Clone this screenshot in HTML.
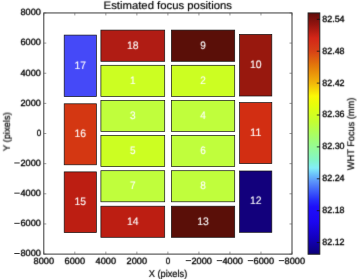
<!DOCTYPE html>
<html><head><meta charset="utf-8"><style>
html,body{margin:0;padding:0;background:#fff;width:357px;height:279px;overflow:hidden}
svg{display:block}
text{font-family:"Liberation Sans", sans-serif;filter:url(#bl);text-rendering:geometricPrecision}
.t{fill:#000;stroke:#000;stroke-width:0.33}
</style></head><body>
<svg width="357" height="279" viewBox="0 0 357 279">
<defs>
<filter id="bl" x="-400" y="-400" width="1200" height="1200" filterUnits="userSpaceOnUse" color-interpolation-filters="sRGB"><feConvolveMatrix order="3" kernelMatrix="0.01134 0.08382 0.01134 0.08382 0.61935 0.08382 0.01134 0.08382 0.01134" edgeMode="none"/></filter>
<linearGradient id="cb" gradientUnits="userSpaceOnUse" x1="0" y1="253.8" x2="0" y2="12.9">

<stop offset="0.0000" stop-color="rgb(12, 0, 122)"/>
<stop offset="0.0656" stop-color="rgb(20, 0, 190)"/>
<stop offset="0.1320" stop-color="rgb(28, 6, 240)"/>
<stop offset="0.1943" stop-color="rgb(30, 14, 250)"/>
<stop offset="0.2233" stop-color="rgb(38, 45, 250)"/>
<stop offset="0.2648" stop-color="rgb(65, 100, 250)"/>
<stop offset="0.2980" stop-color="rgb(90, 145, 250)"/>
<stop offset="0.3271" stop-color="rgb(105, 190, 250)"/>
<stop offset="0.3562" stop-color="rgb(130, 238, 248)"/>
<stop offset="0.3894" stop-color="rgb(130, 245, 200)"/>
<stop offset="0.4309" stop-color="rgb(145, 250, 160)"/>
<stop offset="0.4932" stop-color="rgb(168, 255, 100)"/>
<stop offset="0.5471" stop-color="rgb(195, 255, 50)"/>
<stop offset="0.6135" stop-color="rgb(228, 255, 12)"/>
<stop offset="0.6550" stop-color="rgb(250, 248, 5)"/>
<stop offset="0.7090" stop-color="rgb(242, 182, 10)"/>
<stop offset="0.7796" stop-color="rgb(228, 122, 10)"/>
<stop offset="0.8418" stop-color="rgb(215, 65, 22)"/>
<stop offset="0.8958" stop-color="rgb(212, 38, 24)"/>
<stop offset="0.9498" stop-color="rgb(150, 20, 15)"/>
<stop offset="1.0000" stop-color="rgb(95, 12, 10)"/>
</linearGradient></defs>
<rect x="64.2" y="35.1" width="32.20" height="61.50" fill="#4549f8" stroke="#111" stroke-width="0.7"/>
<rect x="64.2" y="103.8" width="32.20" height="61.00" fill="#d43712" stroke="#111" stroke-width="0.7"/>
<rect x="64.2" y="171.9" width="32.20" height="60.70" fill="#bc1e12" stroke="#111" stroke-width="0.7"/>
<rect x="100.9" y="30.1" width="63.80" height="31.20" fill="#b01c14" stroke="#111" stroke-width="0.7"/>
<rect x="100.9" y="65.3" width="63.80" height="31.10" fill="#ccfe22" stroke="#111" stroke-width="0.7"/>
<rect x="100.9" y="100.4" width="63.80" height="31.00" fill="#c0fe3c" stroke="#111" stroke-width="0.7"/>
<rect x="100.9" y="135.4" width="63.80" height="31.20" fill="#ccfe22" stroke="#111" stroke-width="0.7"/>
<rect x="100.9" y="170.7" width="63.80" height="31.10" fill="#c0fe3c" stroke="#111" stroke-width="0.7"/>
<rect x="100.9" y="206.2" width="63.80" height="31.10" fill="#bc1e12" stroke="#111" stroke-width="0.7"/>
<rect x="171.4" y="30.1" width="63.30" height="31.20" fill="#5a0f08" stroke="#111" stroke-width="0.7"/>
<rect x="171.4" y="65.3" width="63.30" height="31.10" fill="#ccfe22" stroke="#111" stroke-width="0.7"/>
<rect x="171.4" y="100.4" width="63.30" height="31.00" fill="#c0fe3c" stroke="#111" stroke-width="0.7"/>
<rect x="171.4" y="135.4" width="63.30" height="31.20" fill="#c0fe3c" stroke="#111" stroke-width="0.7"/>
<rect x="171.4" y="170.7" width="63.30" height="31.10" fill="#c0fe3c" stroke="#111" stroke-width="0.7"/>
<rect x="171.4" y="206.2" width="63.30" height="31.10" fill="#5a0f08" stroke="#111" stroke-width="0.7"/>
<rect x="239.6" y="34.4" width="32.20" height="61.60" fill="#98180e" stroke="#111" stroke-width="0.7"/>
<rect x="239.6" y="102.6" width="32.20" height="61.00" fill="#d22e12" stroke="#111" stroke-width="0.7"/>
<rect x="239.6" y="171.0" width="32.20" height="61.30" fill="#12007c" stroke="#111" stroke-width="0.7"/>
<text x="80.30" y="68.65" font-size="10.9" fill="#fff" stroke="#fff" stroke-width="0.1" text-anchor="middle" textLength="11.6" lengthAdjust="spacingAndGlyphs">17</text>
<text x="80.30" y="137.10" font-size="10.9" fill="#fff" stroke="#fff" stroke-width="0.1" text-anchor="middle" textLength="11.6" lengthAdjust="spacingAndGlyphs">16</text>
<text x="80.30" y="205.05" font-size="10.9" fill="#fff" stroke="#fff" stroke-width="0.1" text-anchor="middle" textLength="11.6" lengthAdjust="spacingAndGlyphs">15</text>
<text x="132.80" y="48.50" font-size="10.9" fill="#fff" stroke="#fff" stroke-width="0.1" text-anchor="middle" textLength="11.6" lengthAdjust="spacingAndGlyphs">18</text>
<text x="132.80" y="83.65" font-size="10.9" fill="#fff" stroke="#fff" stroke-width="0.1" text-anchor="middle" textLength="5.6" lengthAdjust="spacingAndGlyphs">1</text>
<text x="132.80" y="118.70" font-size="10.9" fill="#fff" stroke="#fff" stroke-width="0.1" text-anchor="middle" textLength="5.6" lengthAdjust="spacingAndGlyphs">3</text>
<text x="132.80" y="153.80" font-size="10.9" fill="#fff" stroke="#fff" stroke-width="0.1" text-anchor="middle" textLength="5.6" lengthAdjust="spacingAndGlyphs">5</text>
<text x="132.80" y="189.05" font-size="10.9" fill="#fff" stroke="#fff" stroke-width="0.1" text-anchor="middle" textLength="5.6" lengthAdjust="spacingAndGlyphs">7</text>
<text x="132.80" y="224.55" font-size="10.9" fill="#fff" stroke="#fff" stroke-width="0.1" text-anchor="middle" textLength="11.6" lengthAdjust="spacingAndGlyphs">14</text>
<text x="203.05" y="48.50" font-size="10.9" fill="#fff" stroke="#fff" stroke-width="0.1" text-anchor="middle" textLength="5.6" lengthAdjust="spacingAndGlyphs">9</text>
<text x="203.05" y="83.65" font-size="10.9" fill="#fff" stroke="#fff" stroke-width="0.1" text-anchor="middle" textLength="5.6" lengthAdjust="spacingAndGlyphs">2</text>
<text x="203.05" y="118.70" font-size="10.9" fill="#fff" stroke="#fff" stroke-width="0.1" text-anchor="middle" textLength="5.6" lengthAdjust="spacingAndGlyphs">4</text>
<text x="203.05" y="153.80" font-size="10.9" fill="#fff" stroke="#fff" stroke-width="0.1" text-anchor="middle" textLength="5.6" lengthAdjust="spacingAndGlyphs">6</text>
<text x="203.05" y="189.05" font-size="10.9" fill="#fff" stroke="#fff" stroke-width="0.1" text-anchor="middle" textLength="5.6" lengthAdjust="spacingAndGlyphs">8</text>
<text x="203.05" y="224.55" font-size="10.9" fill="#fff" stroke="#fff" stroke-width="0.1" text-anchor="middle" textLength="11.6" lengthAdjust="spacingAndGlyphs">13</text>
<text x="255.70" y="68.00" font-size="10.9" fill="#fff" stroke="#fff" stroke-width="0.1" text-anchor="middle" textLength="11.6" lengthAdjust="spacingAndGlyphs">10</text>
<text x="255.70" y="135.90" font-size="10.9" fill="#fff" stroke="#fff" stroke-width="0.1" text-anchor="middle" textLength="11.6" lengthAdjust="spacingAndGlyphs">11</text>
<text x="255.70" y="204.45" font-size="10.9" fill="#fff" stroke="#fff" stroke-width="0.1" text-anchor="middle" textLength="11.6" lengthAdjust="spacingAndGlyphs">12</text>
<rect x="43.8" y="12.95" width="248.20" height="241.15" fill="none" stroke="#3a3a3a" stroke-width="1"/>
<line x1="292.00" y1="12.95" x2="292.00" y2="15.45" stroke="#555" stroke-width="0.6"/>
<line x1="292.00" y1="254.1" x2="292.00" y2="251.6" stroke="#555" stroke-width="0.6"/>
<line x1="260.97" y1="12.95" x2="260.97" y2="15.45" stroke="#555" stroke-width="0.6"/>
<line x1="260.97" y1="254.1" x2="260.97" y2="251.6" stroke="#555" stroke-width="0.6"/>
<line x1="229.95" y1="12.95" x2="229.95" y2="15.45" stroke="#555" stroke-width="0.6"/>
<line x1="229.95" y1="254.1" x2="229.95" y2="251.6" stroke="#555" stroke-width="0.6"/>
<line x1="198.93" y1="12.95" x2="198.93" y2="15.45" stroke="#555" stroke-width="0.6"/>
<line x1="198.93" y1="254.1" x2="198.93" y2="251.6" stroke="#555" stroke-width="0.6"/>
<line x1="167.90" y1="12.95" x2="167.90" y2="15.45" stroke="#555" stroke-width="0.6"/>
<line x1="167.90" y1="254.1" x2="167.90" y2="251.6" stroke="#555" stroke-width="0.6"/>
<line x1="136.88" y1="12.95" x2="136.88" y2="15.45" stroke="#555" stroke-width="0.6"/>
<line x1="136.88" y1="254.1" x2="136.88" y2="251.6" stroke="#555" stroke-width="0.6"/>
<line x1="105.85" y1="12.95" x2="105.85" y2="15.45" stroke="#555" stroke-width="0.6"/>
<line x1="105.85" y1="254.1" x2="105.85" y2="251.6" stroke="#555" stroke-width="0.6"/>
<line x1="74.82" y1="12.95" x2="74.82" y2="15.45" stroke="#555" stroke-width="0.6"/>
<line x1="74.82" y1="254.1" x2="74.82" y2="251.6" stroke="#555" stroke-width="0.6"/>
<line x1="43.80" y1="12.95" x2="43.80" y2="15.45" stroke="#555" stroke-width="0.6"/>
<line x1="43.80" y1="254.1" x2="43.80" y2="251.6" stroke="#555" stroke-width="0.6"/>
<line x1="43.8" y1="254.10" x2="46.3" y2="254.10" stroke="#555" stroke-width="0.6"/>
<line x1="292.0" y1="254.10" x2="289.5" y2="254.10" stroke="#555" stroke-width="0.6"/>
<line x1="43.8" y1="223.96" x2="46.3" y2="223.96" stroke="#555" stroke-width="0.6"/>
<line x1="292.0" y1="223.96" x2="289.5" y2="223.96" stroke="#555" stroke-width="0.6"/>
<line x1="43.8" y1="193.81" x2="46.3" y2="193.81" stroke="#555" stroke-width="0.6"/>
<line x1="292.0" y1="193.81" x2="289.5" y2="193.81" stroke="#555" stroke-width="0.6"/>
<line x1="43.8" y1="163.67" x2="46.3" y2="163.67" stroke="#555" stroke-width="0.6"/>
<line x1="292.0" y1="163.67" x2="289.5" y2="163.67" stroke="#555" stroke-width="0.6"/>
<line x1="43.8" y1="133.53" x2="46.3" y2="133.53" stroke="#555" stroke-width="0.6"/>
<line x1="292.0" y1="133.53" x2="289.5" y2="133.53" stroke="#555" stroke-width="0.6"/>
<line x1="43.8" y1="103.38" x2="46.3" y2="103.38" stroke="#555" stroke-width="0.6"/>
<line x1="292.0" y1="103.38" x2="289.5" y2="103.38" stroke="#555" stroke-width="0.6"/>
<line x1="43.8" y1="73.24" x2="46.3" y2="73.24" stroke="#555" stroke-width="0.6"/>
<line x1="292.0" y1="73.24" x2="289.5" y2="73.24" stroke="#555" stroke-width="0.6"/>
<line x1="43.8" y1="43.09" x2="46.3" y2="43.09" stroke="#555" stroke-width="0.6"/>
<line x1="292.0" y1="43.09" x2="289.5" y2="43.09" stroke="#555" stroke-width="0.6"/>
<line x1="43.8" y1="12.95" x2="46.3" y2="12.95" stroke="#555" stroke-width="0.6"/>
<line x1="292.0" y1="12.95" x2="289.5" y2="12.95" stroke="#555" stroke-width="0.6"/>
<rect x="278.80" y="260.30" width="5.4" height="0.8" fill="#000"/>
<text x="284.55" y="263.5" font-size="9.0" class="t" textLength="20.50" lengthAdjust="spacingAndGlyphs">8000</text>
<rect x="247.77" y="260.30" width="5.4" height="0.8" fill="#000"/>
<text x="253.52" y="263.5" font-size="9.0" class="t" textLength="20.50" lengthAdjust="spacingAndGlyphs">6000</text>
<rect x="216.75" y="260.30" width="5.4" height="0.8" fill="#000"/>
<text x="222.50" y="263.5" font-size="9.0" class="t" textLength="20.50" lengthAdjust="spacingAndGlyphs">4000</text>
<rect x="185.73" y="260.30" width="5.4" height="0.8" fill="#000"/>
<text x="191.48" y="263.5" font-size="9.0" class="t" textLength="20.50" lengthAdjust="spacingAndGlyphs">2000</text>
<text x="167.90" y="263.5" font-size="9.0" class="t" text-anchor="middle" textLength="4.50" lengthAdjust="spacingAndGlyphs">0</text>
<text x="136.88" y="263.5" font-size="9.0" class="t" text-anchor="middle" textLength="20.50" lengthAdjust="spacingAndGlyphs">2000</text>
<text x="105.85" y="263.5" font-size="9.0" class="t" text-anchor="middle" textLength="20.50" lengthAdjust="spacingAndGlyphs">4000</text>
<text x="74.82" y="263.5" font-size="9.0" class="t" text-anchor="middle" textLength="20.50" lengthAdjust="spacingAndGlyphs">6000</text>
<text x="43.80" y="263.5" font-size="9.0" class="t" text-anchor="middle" textLength="20.50" lengthAdjust="spacingAndGlyphs">8000</text>
<text x="41.0" y="256.40" font-size="9.0" class="t" text-anchor="end" textLength="20.50" lengthAdjust="spacingAndGlyphs">8000</text>
<rect x="14.30" y="253.00" width="5.4" height="0.8" fill="#000"/>
<text x="41.0" y="226.26" font-size="9.0" class="t" text-anchor="end" textLength="20.50" lengthAdjust="spacingAndGlyphs">6000</text>
<rect x="14.30" y="222.86" width="5.4" height="0.8" fill="#000"/>
<text x="41.0" y="196.11" font-size="9.0" class="t" text-anchor="end" textLength="20.50" lengthAdjust="spacingAndGlyphs">4000</text>
<rect x="14.30" y="192.71" width="5.4" height="0.8" fill="#000"/>
<text x="41.0" y="165.97" font-size="9.0" class="t" text-anchor="end" textLength="20.50" lengthAdjust="spacingAndGlyphs">2000</text>
<rect x="14.30" y="162.57" width="5.4" height="0.8" fill="#000"/>
<text x="41.3" y="135.83" font-size="9.0" class="t" text-anchor="end" textLength="4.50" lengthAdjust="spacingAndGlyphs">0</text>
<text x="41.0" y="105.68" font-size="9.0" class="t" text-anchor="end" textLength="20.50" lengthAdjust="spacingAndGlyphs">2000</text>
<text x="41.0" y="75.54" font-size="9.0" class="t" text-anchor="end" textLength="20.50" lengthAdjust="spacingAndGlyphs">4000</text>
<text x="41.0" y="45.39" font-size="9.0" class="t" text-anchor="end" textLength="20.50" lengthAdjust="spacingAndGlyphs">6000</text>
<text x="41.0" y="15.25" font-size="9.0" class="t" text-anchor="end" textLength="20.50" lengthAdjust="spacingAndGlyphs">8000</text>
<text x="167.8" y="8.8" font-size="10.9" class="t" style="stroke-width:0.18" text-anchor="middle" textLength="128.4" lengthAdjust="spacingAndGlyphs">Estimated focus positions</text>
<text x="168" y="276.5" font-size="9.9" class="t" style="stroke-width:0.22" text-anchor="middle" textLength="38.6" lengthAdjust="spacingAndGlyphs">X (pixels)</text>
<text transform="translate(9.9,131.6) rotate(-90)" x="0" y="0" font-size="9.6" class="t" style="stroke-width:0.22" text-anchor="middle" textLength="38.8" lengthAdjust="spacingAndGlyphs">Y (pixels)</text>
<rect x="308.1" y="12.95" width="11.70" height="241.25" fill="url(#cb)" stroke="#222" stroke-width="1"/>
<line x1="319.8" y1="19.30" x2="316.8" y2="19.30" stroke="#111" stroke-width="0.8"/>
<text x="322.2" y="21.70" font-size="9.0" class="t" textLength="22.4" lengthAdjust="spacingAndGlyphs">82.54</text>
<line x1="319.8" y1="51.20" x2="316.8" y2="51.20" stroke="#111" stroke-width="0.8"/>
<text x="322.2" y="53.60" font-size="9.0" class="t" textLength="22.4" lengthAdjust="spacingAndGlyphs">82.48</text>
<line x1="319.8" y1="83.10" x2="316.8" y2="83.10" stroke="#111" stroke-width="0.8"/>
<text x="322.2" y="85.50" font-size="9.0" class="t" textLength="22.4" lengthAdjust="spacingAndGlyphs">82.42</text>
<line x1="319.8" y1="115.00" x2="316.8" y2="115.00" stroke="#111" stroke-width="0.8"/>
<text x="322.2" y="117.40" font-size="9.0" class="t" textLength="22.4" lengthAdjust="spacingAndGlyphs">82.36</text>
<line x1="319.8" y1="146.90" x2="316.8" y2="146.90" stroke="#111" stroke-width="0.8"/>
<text x="322.2" y="149.30" font-size="9.0" class="t" textLength="22.4" lengthAdjust="spacingAndGlyphs">82.30</text>
<line x1="319.8" y1="178.80" x2="316.8" y2="178.80" stroke="#111" stroke-width="0.8"/>
<text x="322.2" y="181.20" font-size="9.0" class="t" textLength="22.4" lengthAdjust="spacingAndGlyphs">82.24</text>
<line x1="319.8" y1="210.70" x2="316.8" y2="210.70" stroke="#111" stroke-width="0.8"/>
<text x="322.2" y="213.10" font-size="9.0" class="t" textLength="22.4" lengthAdjust="spacingAndGlyphs">82.18</text>
<line x1="319.8" y1="242.60" x2="316.8" y2="242.60" stroke="#111" stroke-width="0.8"/>
<text x="322.2" y="245.00" font-size="9.0" class="t" textLength="22.4" lengthAdjust="spacingAndGlyphs">82.12</text>
<text transform="translate(354.2,133.9) rotate(-90)" x="0" y="0" font-size="9.8" class="t" style="stroke-width:0.22" text-anchor="middle" textLength="72.4" lengthAdjust="spacingAndGlyphs">WHT Focus (mm)</text>
</svg></body></html>
